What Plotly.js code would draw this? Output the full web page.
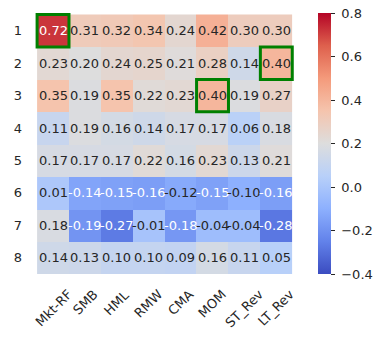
<!DOCTYPE html>
<html>
<head>
<meta charset="utf-8">
<script src="https://cdn.plot.ly/plotly-3.0.1.min.js"></script>
<style>
  html, body { margin: 0; padding: 0; background: #fff; }
  #plotArea { width: 384px; height: 340px; }
</style>
</head>
<body>
<div id="plotArea"></div>
<script>
var factors = ["Mkt-RF", "SMB", "HML", "RMW", "CMA", "MOM", "ST_Rev", "LT_Rev"];
var rows = ["1", "2", "3", "4", "5", "6", "7", "8"];

var row1 = [0.72, 0.31, 0.32, 0.34, 0.24, 0.42, 0.30, 0.30];
var row2 = [0.23, 0.20, 0.24, 0.25, 0.21, 0.28, 0.14, 0.40];
var row3 = [0.35, 0.19, 0.35, 0.22, 0.23, 0.40, 0.19, 0.27];
var row4 = [0.11, 0.19, 0.16, 0.14, 0.17, 0.17, 0.06, 0.18];
var row5 = [0.17, 0.17, 0.17, 0.22, 0.16, 0.23, 0.13, 0.21];
var row6 = [0.01, -0.14, -0.15, -0.16, -0.12, -0.15, -0.10, -0.16];
var row7 = [0.18, -0.19, -0.27, -0.01, -0.18, -0.04, -0.04, -0.28];
var row8 = [0.14, 0.13, 0.10, 0.10, 0.09, 0.16, 0.11, 0.05];
var values = [row1, row2, row3, row4, row5, row6, row7, row8];

// highlighted cells (row, factor)
var highlightRows = ["1", "2", "3"];
var highlightCols = ["Mkt-RF", "LT_Rev", "MOM"];

var cbTicks = [-0.4, -0.2, 0, 0.2, 0.4, 0.6, 0.8];

var zmin = -0.4, zmax = 0.8;

// matplotlib coolwarm
var cw = [
    [0.0, [59, 76, 192]],
    [0.125, [98, 130, 234]],
    [0.25, [141, 176, 254]],
    [0.375, [184, 208, 249]],
    [0.5, [221, 221, 221]],
    [0.625, [245, 196, 173]],
    [0.75, [244, 154, 123]],
    [0.875, [222, 96, 77]],
    [1.0, [180, 4, 38]]
];
var colorscale = cw.map(function(s) { return [s[0], "rgb(" + s[1].join(",") + ")"]; });

function cwColor(v) {
    var t = Math.max(0, Math.min(1, (v - zmin) / (zmax - zmin)));
    for (var i = 1; i < cw.length; i++) {
        if (t <= cw[i][0]) {
            var f = (t - cw[i - 1][0]) / (cw[i][0] - cw[i - 1][0]);
            return cw[i - 1][1].map(function(c, k) { return c + f * (cw[i][1][k] - c); });
        }
    }
    return cw[cw.length - 1][1];
}

function lum(rgb) {
    var l = rgb.map(function(c) {
        c = c / 255;
        return c <= 0.03928 ? c / 12.92 : Math.pow((c + 0.055) / 1.055, 2.4);
    });
    return 0.2126 * l[0] + 0.7152 * l[1] + 0.0722 * l[2];
}

var txtFont = {family: "DejaVu Sans", size: 13, color: "#262626"};

// cell labels, placed by category index
var annotations = [];
values.forEach(function(r, i) {
    r.forEach(function(v, j) {
        annotations.push({
            x: j, y: i, xref: "x", yref: "y",
            text: v.toFixed(2), showarrow: false,
            font: {family: "DejaVu Sans", size: 13, color: lum(cwColor(v)) > 0.408 ? "#262626" : "#ffffff"}
        });
    });
});

// x tick labels: rotated 45, centred under the column (matplotlib style)
factors.forEach(function(f, j) {
    annotations.push({
        x: j, xref: "x", y: 0, yref: "paper",
        text: f, showarrow: false, textangle: -45,
        xanchor: "center", yanchor: "top", yshift: -10,
        font: txtFont
    });
});

var shapes = highlightRows.map(function(r, k) {
    var xi = factors.indexOf(highlightCols[k]);
    var yi = rows.indexOf(r);
    return {
        type: "rect", xref: "x", yref: "y",
        x0: xi - 0.5, x1: xi + 0.5, y0: yi - 0.5, y1: yi + 0.5,
        line: {color: "green", width: 3}
    };
});

var trace = [{
    z: values,
    x: factors,
    y: rows,
    type: "heatmap",
    colorscale: colorscale,
    zmin: zmin,
    zmax: zmax,
    xgap: 0, ygap: 0,
    hoverinfo: "skip",
    colorbar: {
        x: 1.0625, xanchor: "left", xpad: 0,
        y: 0.5, yanchor: "middle", ypad: 0,
        lenmode: "pixels", len: 261,
        thicknessmode: "pixels", thickness: 13,
        outlinewidth: 0,
        ticks: "outside", ticklen: 4, tickcolor: "#262626",
        tickvals: cbTicks,
        ticktext: cbTicks.map(function(t) { return "\u00a0" + t.toFixed(1).replace("-", "\u2212"); }),
        tickfont: txtFont
    }
}];

var layout = {
    width: 384, height: 340,
    margin: {l: 29, r: 83, t: 13, b: 66},
    paper_bgcolor: "#fff", plot_bgcolor: "#fff",
    font: txtFont,
    xaxis: {
        type: "category", showticklabels: false, ticks: "", showgrid: false,
        zeroline: false, showline: false
    },
    yaxis: {
        type: "category", autorange: "reversed", ticks: "", showgrid: false,
        zeroline: false, showline: false, ticklabelstandoff: 6,
        tickfont: txtFont
    },
    annotations: annotations,
    shapes: shapes,
    showlegend: false
};

Plotly.newPlot("plotArea", trace, layout, {displayModeBar: false, staticPlot: true});
</script>
</body>
</html>
